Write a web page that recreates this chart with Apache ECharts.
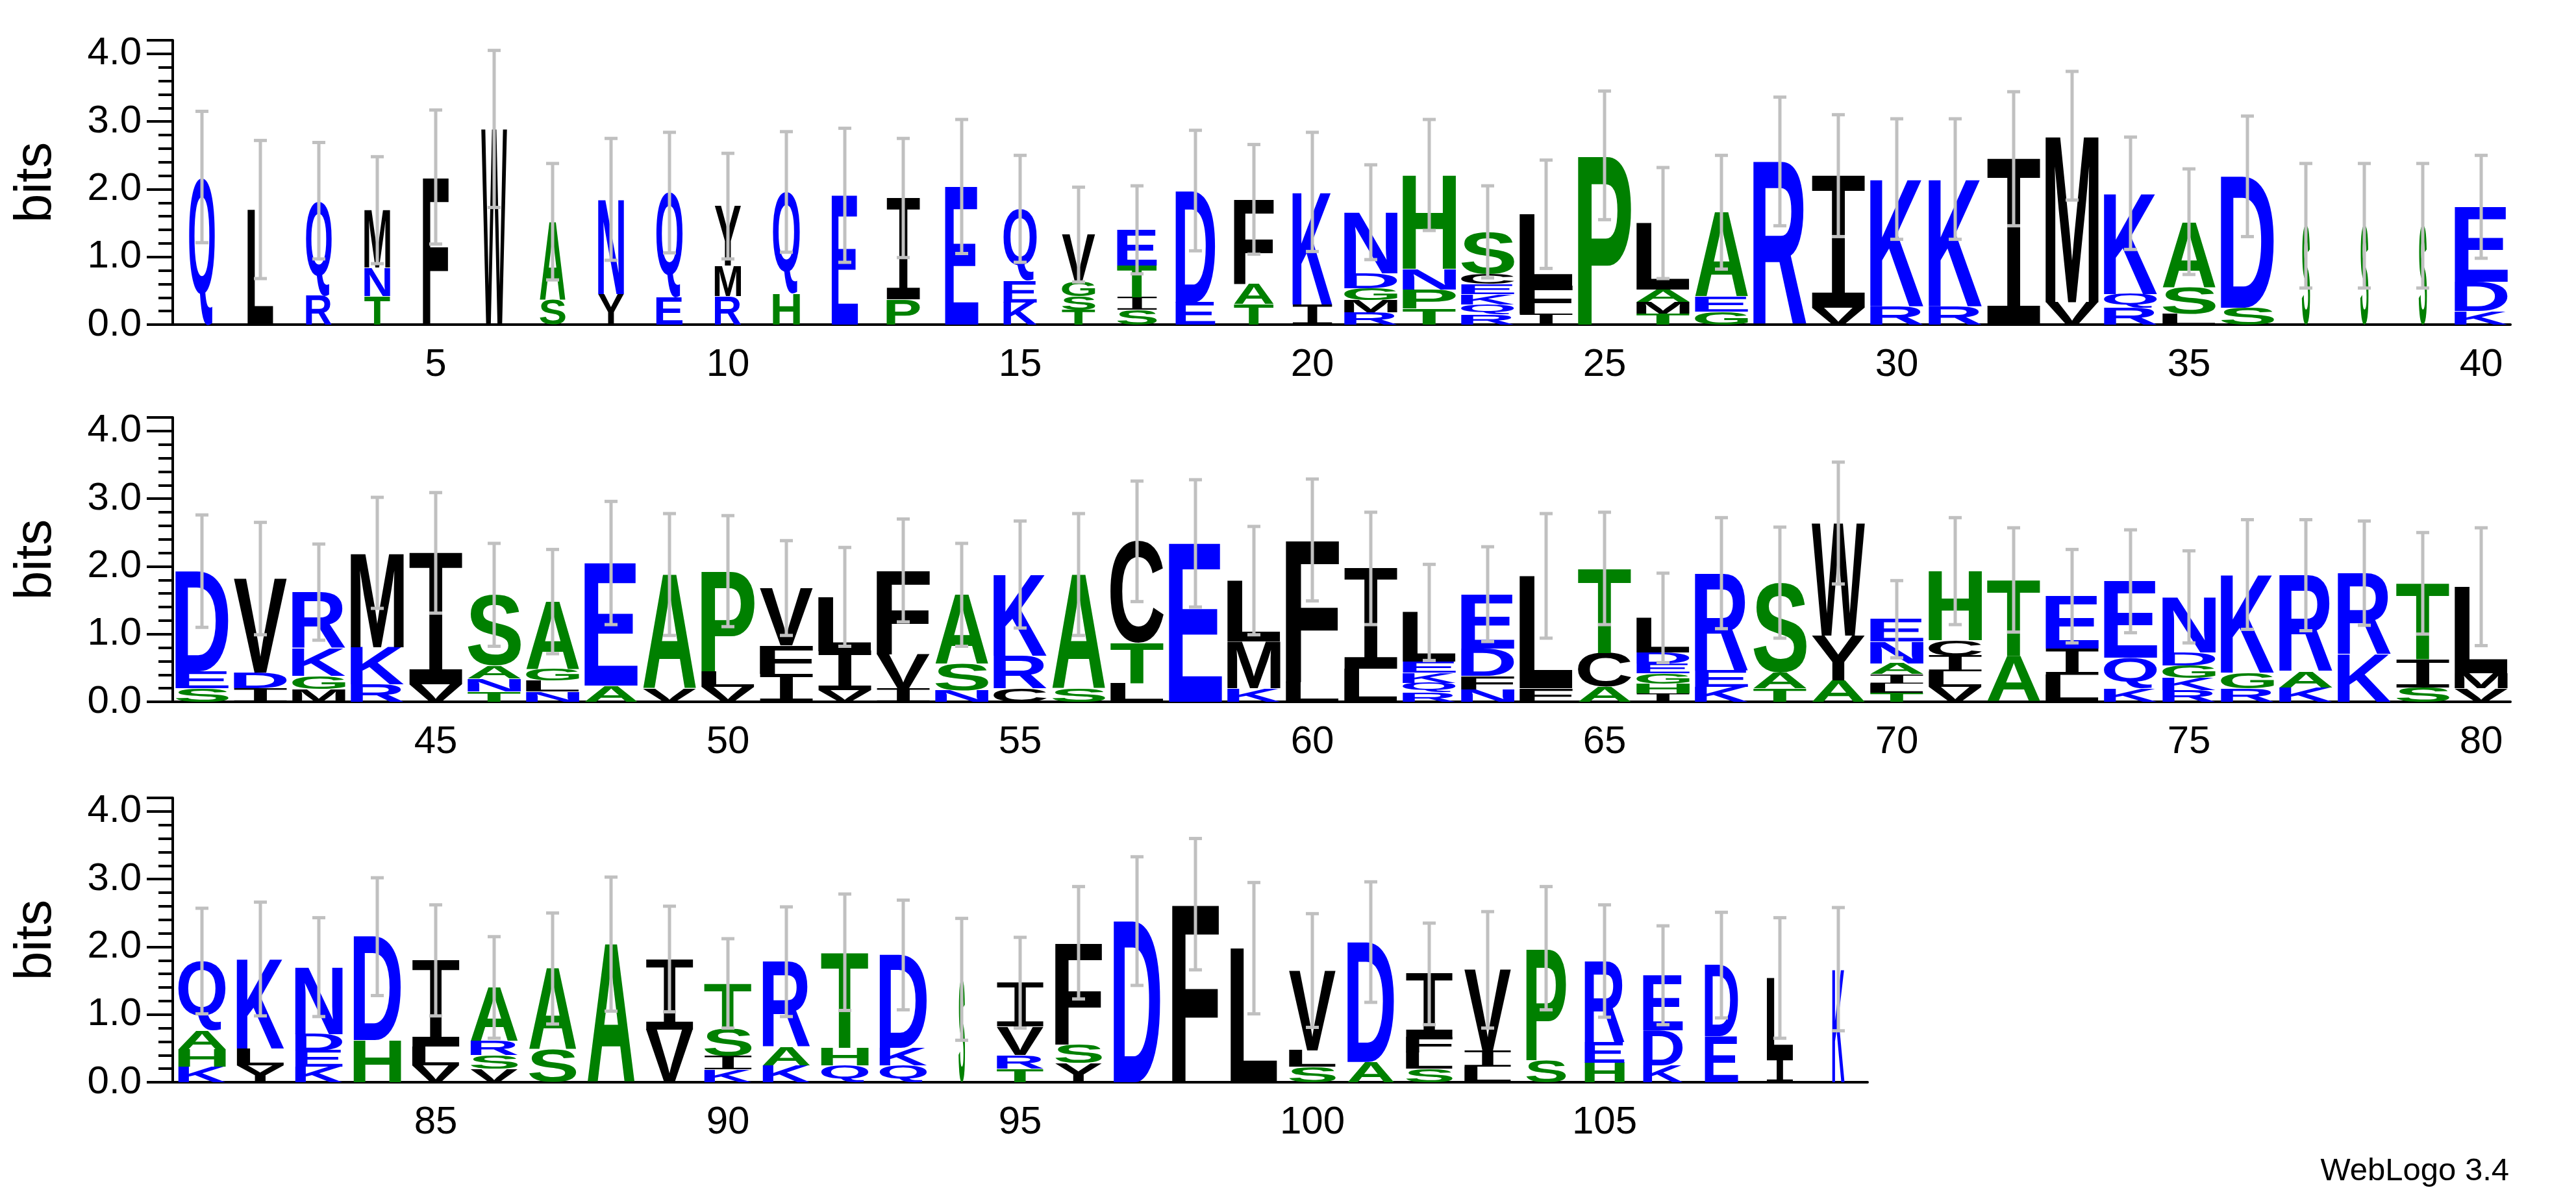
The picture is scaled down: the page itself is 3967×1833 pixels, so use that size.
<!DOCTYPE html>
<html><head><meta charset="utf-8">
<script src="https://cdn.jsdelivr.net/npm/echarts@6/dist/echarts.min.js"></script>
<style>html,body{margin:0;padding:0;background:#fff}#c{width:3967px;height:1833px}</style>
</head><body><div id="c"></div>
<script>
// Stacks per position, bottom to top: "Letter:bits"
const stacks = [
"Q:2.18","L:1.70","R:.43 Q:1.40","T:.42 N:.42 M:.85","F:2.18","W:2.89","S:.37 A:1.15","Y:.45 N:1.40","E:.40 Q:1.55","R:.42 M:.45 Y:.88",
"H:.46 Q:1.50","E:1.91","P:.37 I:1.50","E:2.04","K:.33 E:.32 Q:1.06","T:.22 S:.20 G:.21 V:.70","S:.22 I:.18 T:.47 E:.53","E:.33 D:1.65","T:.3 A:.3 F:1.25","I:.3 K:1.66",
"R:.18 M:.18 G:.18 D:.22 N:.9","T:.24 P:.28 N:.3 H:1.39","R:.15 Q:.15 K:.15 E:.15 C:.15 S:.62","I:.16 F:.42 L:1.05","P:2.5","T:.16 M:.17 A:.19 L:.98","G:.19 E:.22 A:1.25","R:2.41","V:.25 I:1.95","R:.27 K:1.88",
"R:.27 K:1.88","I:2.45","V:.33 M:2.46","R:.25 Q:.2 K:1.49","L:.16 S:.39 A:.97","S:.25 D:1.94","S:1.46","S:1.46","S:1.46","K:.2 D:.43 E:1.11",
"S:.2 E:.25 D:1.48","I:.2 D:.23 V:1.39","M:.19 G:.19 K:.41 R:.83","R:.26 K:.55 M:1.39","V:.26 I:1.94","T:.15 N:.19 A:.19 S:1.05","N:.15 L:.16 G:.17 A:1.0","A:.24 E:1.81","V:.2 A:1.68","V:.22 L:.23 P:1.48",
"I:.41 F:.42 V:.85","V:.17 I:.58 L:.8","I:.2 V:.5 F:1.24","N:.17 S:.39 A:1.02","C:.2 R:.48 K:1.2","S:.2 A:1.68","L:.28 T:.59 C:1.5","E:2.34","K:.2 M:.69 L:.9","L:.29 F:2.1",
"L:.49 I:1.48","R:.14 Q:.14 K:.15 E:.16 L:.73","N:.18 F:.2 D:.41 E:.8","F:.2 L:1.66","A:.22 C:.5 T:1.25","I:.12 H:.15 G:.15 E:.15 D:.16 L:.51","K:.22 E:.24 R:1.44","T:.2 A:.23 S:1.33","A:.32 Y:.66 W:1.66","T:.13 L:.14 I:.14 A:.16 N:.32 E:.33",
"V:.22 L:.23 I:.23 C:.23 H:1.02","A:.67 T:1.13","L:.4 I:.39 E:.77","K:.2 Q:.45 E:1.13","R:.17 K:.18 G:.19 D:.19 N:.82","R:.2 G:.23 K:1.45","K:.21 A:.24 R:1.42","K:.7 R:1.2","S:.21 I:.41 T:1.13","V:.2 M:.22 L:1.28",
"K:.23 H:.26 A:.27 Q:1.03","Y:.25 L:.25 K:1.32","K:.23 E:.24 D:.24 N:.99","H:.62 D:1.53","V:.25 L:.28 I:1.27","V:.2 S:.2 R:.21 A:.79","S:.48 A:1.2","A:2.04","V:.78 I:1.04","K:.19 I:.2 S:.4 T:.67",
"K:.25 A:.27 R:1.26","Q:.25 H:.26 T:1.41","Q:.25 K:.26 D:1.37","S:1.52","T:.2 R:.2 V:.42 I:.65","Y:.28 S:.28 F:1.5","D:2.38","F:2.63","L:1.98","S:.23 L:.24 V:1.18",
"A:.3 D:1.77","S:.2 L:.24 F:.23 I:.93","L:.23 I:.23 V:1.2","S:.33 P:1.65","H:.29 E:.3 R:1.2","K:.25 D:.52 E:.81","E:.68 D:1.05","I:.36 L:1.18","K:1.67"
];
const errors = [
.97,1.02,.86,.79,.99,1.16,.86,.9,.89,.78,.89,.99,.88,.99,.79,.7,.65,.89,.81,.88,.7,.82,.68,.8,.95,.82,.84,.95,.9,.89,.89,.99,.95,.83,.78,.89,.92,.92,.92,.76,
.83,.83,.71,.82,.89,.76,.77,.91,.9,.82,.7,.73,.76,.76,.79,.9,.89,.94,.8,.9,.83,.71,.7,.92,.83,.66,.82,.82,.9,.57,.79,.77,.69,.76,.68,.81,.82,.77,.75,.87,
.78,.84,.73,.87,.82,.75,.82,.99,.78,.66,.81,.86,.81,.9,.67,.83,.95,.97,.97,.84,.89,.75,.86,.91,.83,.73,.78,.89,.91
];
// column width fraction (relative weight)
const widths = [
.44,.44,.44,.44,.44,.44,.44,.44,.45,.45,.46,.45,.57,.57,.57,.57,.68,.68,.68,.68,.91,.91,.91,.91,.91,.91,.91,.91,.91,.91,.91,.91,.91,.91,.91,.91,.14,.14,.14,.91,
.91,.91,.91,.91,.91,.91,.91,.91,.91,.91,.91,.91,.91,.91,.91,.91,.91,.91,.91,.91,.91,.91,.91,.91,.91,.91,.91,.91,.91,.91,.91,.91,.91,.91,.91,.91,.91,.91,.91,.91,
.81,.81,.81,.81,.81,.81,.81,.81,.81,.81,.81,.81,.81,.11,.8,.8,.8,.8,.8,.8,.8,.8,.8,.68,.68,.68,.57,.45,.21
];
const yTicks = [0,1,2,3,4];
const rows = [[1,40],[41,80],[81,109]];
const colorOf = ch => ('QNRKED'.includes(ch)) ? '#0000FF' : ('ASTGPH'.includes(ch) ? '#008000' : '#000000');

const FONT = 'bold 200px "Liberation Sans", Arial, sans-serif';
const FONT_I = '200px "DejaVu Sans Mono", monospace';
const fontOf = ch => ch==='I' ? FONT_I : FONT;
const mc = document.createElement('canvas').getContext('2d');
const metrics = {};
function met(ch){ if(!metrics[ch]){mc.font=fontOf(ch); mc.textBaseline='middle'; mc.textAlign='left'; const m=mc.measureText(ch);metrics[ch]={l:m.actualBoundingBoxLeft,r:m.actualBoundingBoxRight,a:m.actualBoundingBoxAscent,d:m.actualBoundingBoxDescent};} return metrics[ch]; }

const grids=[],xAxes=[],yAxes=[],series=[];
const tops=[62,643,1229];
rows.forEach((r,gi)=>{
  const n=r[1]-r[0]+1;
  const cats=[]; for(let p=r[0];p<=r[1];p++) cats.push(String(p));
  grids.push({left:266,top:tops[gi],width:n*90,height:438});
  xAxes.push({type:'category',gridIndex:gi,data:cats,boundaryGap:true,position:'bottom',
    axisLine:{lineStyle:{color:'#000',width:4}},axisTick:{alignWithLabel:true,interval:0,length:12,lineStyle:{width:4,color:'#000'}},axisLabel:{show:false},splitLine:{show:false}});
  xAxes.push({type:'category',gridIndex:gi,data:cats,boundaryGap:true,position:'bottom',
    axisLine:{show:false},axisTick:{alignWithLabel:true,interval:(i,v)=>(+v)%5===0,length:22,lineStyle:{width:4,color:'#000'}},
    axisLabel:{interval:(i,v)=>(+v)%5===0,fontSize:60,color:'#000',margin:32,fontFamily:'Liberation Sans'},splitLine:{show:false}});
  yAxes.push({type:'value',gridIndex:gi,min:0,max:4.2,interval:1,name:'bits',nameLocation:'middle',nameGap:170,
    nameTextStyle:{fontSize:80,color:'#000',fontFamily:'Liberation Sans'},
    axisLine:{show:true,lineStyle:{color:'#000',width:4}},axisTick:{show:true,length:40,lineStyle:{width:4,color:'#000'}},
    minorTick:{show:true,splitNumber:5,length:22,lineStyle:{width:4,color:'#000'}},
    axisLabel:{fontSize:60,color:'#000',margin:48,fontFamily:'Liberation Sans',formatter:v=>yTicks.includes(v)?v.toFixed(1):''},
    splitLine:{show:false}});
  const letters=[],ldata=[],edata=[];
  for(let p=r[0];p<=r[1];p++){
    let base=0;
    stacks[p-1].split(' ').forEach(t=>{const [ch,h]=t.split(':');ldata.push([p-r[0],base,+h,widths[p-1]]);letters.push(ch);base+=+h;});
    edata.push([p-r[0],base,errors[p-1]]);
  }
  series.push({type:'custom',xAxisIndex:gi*2,yAxisIndex:gi,silent:true,animation:false,data:ldata,clip:false,
    renderItem:(params,api)=>{
      const ch=letters[params.dataIndex];
      const i=api.value(0),b=api.value(1),h=api.value(2),wf=api.value(3);
      const p0=api.coord([i,b]),p1=api.coord([i,b+h]);
      const w=api.size([1,0])[0]*wf;
      const m=met(ch);
      const gw=m.l+m.r, gh=m.a+m.d;
      const sx=w/gw, sy=(p0[1]-p1[1])/gh;
      const x0=p0[0]-w/2, yt=p1[1];
      return {type:'text',x:x0+sx*m.l,y:yt+sy*m.a,scaleX:sx,scaleY:sy,
        style:{text:ch,x:0,y:0,font:fontOf(ch),fill:colorOf(ch),align:'left',verticalAlign:'middle',textAlign:'left',textVerticalAlign:'middle'}};
    }});
  series.push({type:'custom',xAxisIndex:gi*2,yAxisIndex:gi,silent:true,animation:false,data:edata,clip:false,
    renderItem:(params,api)=>{
      const i=api.value(0),t=api.value(1),e=api.value(2);
      const a=api.coord([i,t+e]),c=api.coord([i,t-e]);
      const st={stroke:'#C0C0C0',lineWidth:5};
      return {type:'group',children:[
        {type:'line',shape:{x1:a[0],y1:a[1],x2:c[0],y2:c[1]},style:st},
        {type:'line',shape:{x1:a[0]-10,y1:a[1],x2:a[0]+10,y2:a[1]},style:st},
        {type:'line',shape:{x1:c[0]-10,y1:c[1],x2:c[0]+10,y2:c[1]},style:st}]};
    }});
});
const chart=echarts.init(document.getElementById('c'));
chart.setOption({animation:false,backgroundColor:'#fff',grid:grids,xAxis:xAxes,yAxis:yAxes,series:series,
  graphic:[{type:'text',right:103,top:1780,style:{text:'WebLogo 3.4',font:'49px "Liberation Sans", Arial',fill:'#000'}}]});
</script></body></html>
